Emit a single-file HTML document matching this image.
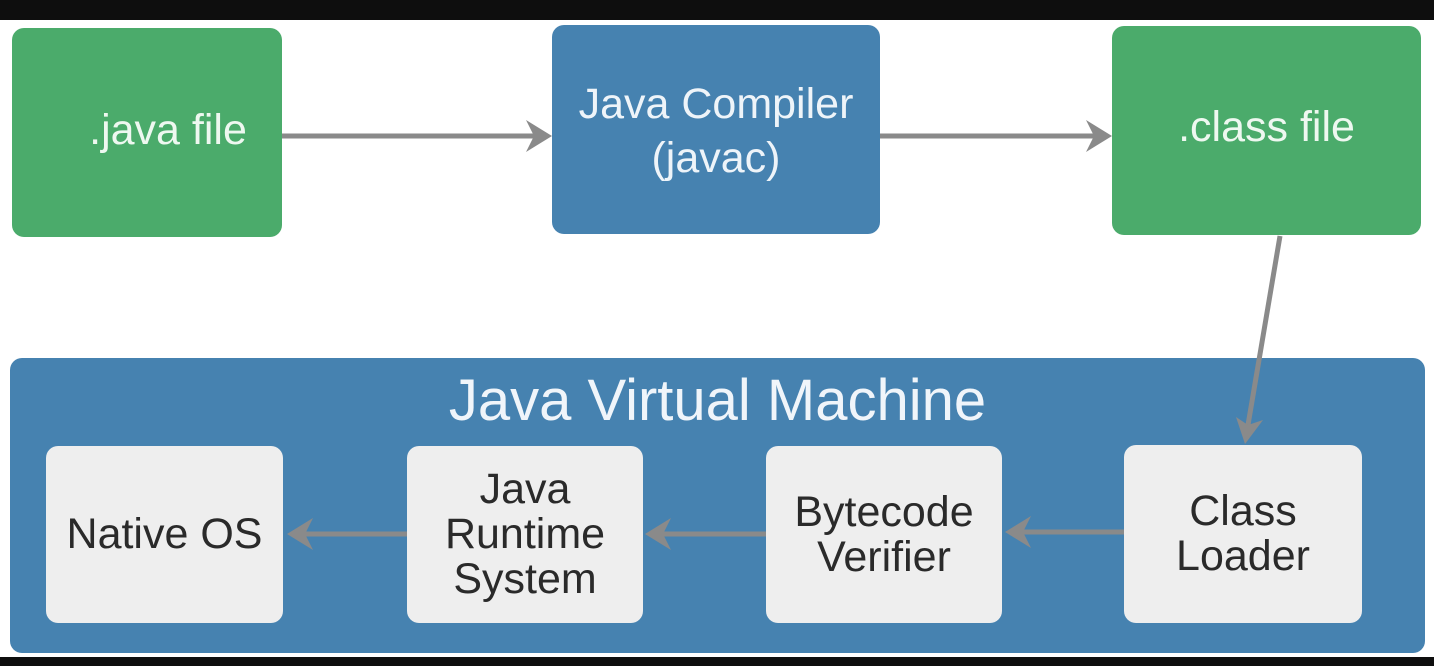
<!DOCTYPE html>
<html><head><style>
body{margin:0;width:1434px;height:666px;background:#fff;position:relative;overflow:hidden;font-family:"Liberation Sans",sans-serif}
.b{position:absolute;display:flex;align-items:center;justify-content:center;text-align:center;border-radius:12px;box-sizing:border-box}
.g{background:#4bab6b;color:#eef8f0;font-size:43px;line-height:1.2}
.bl{background:#4682b0;color:#eef4f9;font-size:43px;line-height:54px}
.w{background:#eeeeee;color:#2a2a2a;font-size:43px;line-height:45px}
</style></head><body>
<div style="position:absolute;left:0;top:0;width:1434px;height:20px;background:#0e0e0e"></div>
<div style="position:absolute;left:0;top:657px;width:1434px;height:9px;background:#0e0e0e"></div>
<div class="b g" style="left:12px;top:28px;width:270px;height:209px;padding-left:42px;padding-bottom:4px">.java file</div>
<div class="b bl" style="left:552px;top:25px;width:328px;height:209px;padding-top:2px">Java Compiler<br>(javac)</div>
<div class="b g" style="left:1112px;top:26px;width:309px;height:209px;padding-bottom:6px">.class file</div>
<div class="b bl" style="left:10px;top:358px;width:1415px;height:295px;align-items:flex-start"><div style="font-size:58px;line-height:70px;margin-top:8px;color:#f0f5fa">Java Virtual Machine</div></div>
<div class="b w" style="left:46px;top:446px;width:237px;height:177px">Native OS</div>
<div class="b w" style="left:407px;top:446px;width:236px;height:177px">Java<br>Runtime<br>System</div>
<div class="b w" style="left:766px;top:446px;width:236px;height:177px">Bytecode<br>Verifier</div>
<div class="b w" style="left:1124px;top:445px;width:238px;height:178px">Class<br>Loader</div>
<svg width="1434" height="666" style="position:absolute;left:0;top:0">
<g stroke="#8a8a8a" stroke-width="5" fill="none">
<line x1="282" y1="136" x2="535" y2="136"/>
<line x1="880" y1="136" x2="1095" y2="136"/>
<line x1="1280" y1="236" x2="1248" y2="425"/>
<line x1="1124" y1="532" x2="1020" y2="532"/>
<line x1="766" y1="534" x2="660" y2="534"/>
<line x1="407" y1="534" x2="302" y2="534"/>
</g>
<g fill="#8a8a8a">
<polygon points="552,136 526,120 534,136 526,152"/>
<polygon points="1112,136 1086,120 1094,136 1086,152"/>
<polygon points="1245,444 1236,417 1248,425 1263,420"/>
<polygon points="1005,532 1031,516 1023,532 1031,548"/>
<polygon points="645,534 671,518 663,534 671,550"/>
<polygon points="287,534 313,518 305,534 313,550"/>
</g></svg>
</body></html>
